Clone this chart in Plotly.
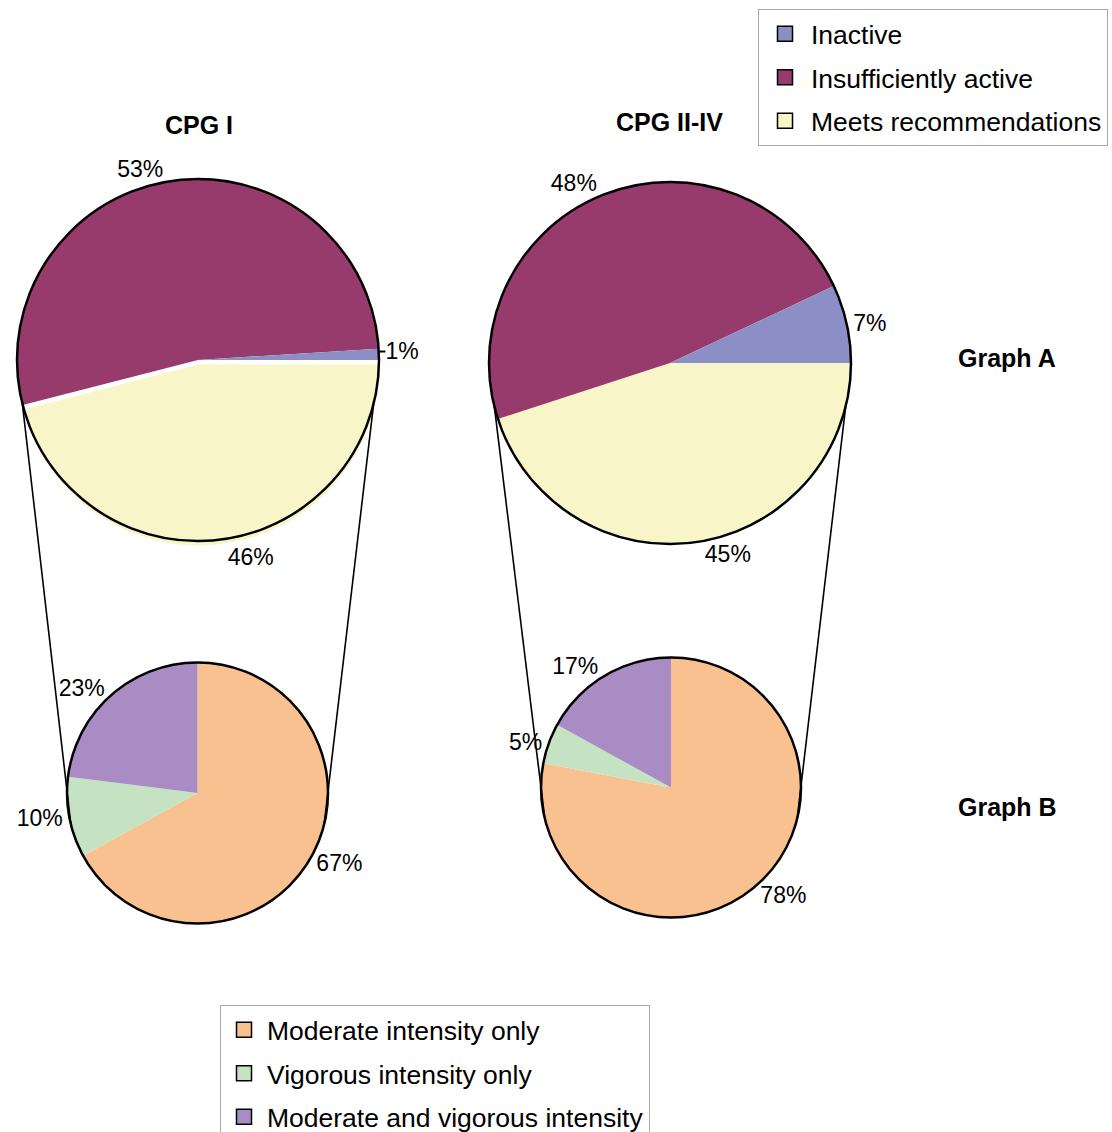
import math
import plotly.graph_objects as go

# ---------------- data ----------------
activity_labels = ["Inactive", "Insufficiently active", "Meets recommendations"]
activity_colors = ["#8b8fc6", "#973a6c", "#f8f6c8"]
cpg1_activity = [1, 53, 46]
cpg2_activity = [7, 48, 45]

intensity_labels = ["Moderate intensity only", "Vigorous intensity only",
                    "Moderate and vigorous intensity"]
intensity_colors = ["#f9c18f", "#c5e3c3", "#a98cc3"]
cpg1_intensity = [67, 10, 23]
cpg2_intensity = [78, 5, 17]

group_titles = ["CPG I", "CPG II-IV"]
row_titles = ["Graph A", "Graph B"]

# ---------------- layout geometry (pixels) ----------------
W, H = 1112, 1132
FONT = "Liberation Sans, Arial, Helvetica, sans-serif"

pies = {
    "tl": (198, 360, 181),
    "tr": (670, 363, 181),
    "bl": (197.5, 793, 130.5),
    "br": (671, 787.5, 130),
}
TL_PULL = 0.025   # the "meets" wedge of CPG I is slightly exploded


def dom(cx, cy, r, pull=0.0):
    h = r * (1 + pull)
    return dict(x=[(cx - h) / W, (cx + h) / W], y=[1 - (cy + h) / H, 1 - (cy - h) / H])


def px(x):
    return x / W


def py(y):
    return 1 - y / H


def rev(seq):
    return list(seq)[::-1]


fig = go.Figure()

common = dict(sort=False, textposition="outside", texttemplate="%{value}%",
              textfont=dict(size=23, color="black", family=FONT),
              showlegend=False, hoverinfo="label+value")

# top pies: counter-clockwise from 3 o'clock == clockwise from 3 o'clock in reverse order
tl_pull = [0, 0, TL_PULL]
fig.add_trace(go.Pie(labels=rev(activity_labels), values=rev(cpg1_activity),
                     domain=dom(*pies["tl"], pull=TL_PULL), direction="clockwise", rotation=90,
                     pull=rev(tl_pull),
                     marker=dict(colors=rev(activity_colors), line=dict(width=0)),
                     **common))
fig.add_trace(go.Pie(labels=rev(activity_labels), values=rev(cpg2_activity),
                     domain=dom(*pies["tr"]), direction="clockwise", rotation=90,
                     marker=dict(colors=rev(activity_colors), line=dict(width=0)),
                     **common))
# bottom pies (clockwise from 12 o'clock)
fig.add_trace(go.Pie(labels=intensity_labels, values=cpg1_intensity, domain=dom(*pies["bl"]),
                     direction="clockwise", rotation=0,
                     marker=dict(colors=intensity_colors, line=dict(width=0)),
                     **common))
fig.add_trace(go.Pie(labels=intensity_labels, values=cpg2_intensity, domain=dom(*pies["br"]),
                     direction="clockwise", rotation=0,
                     marker=dict(colors=intensity_colors, line=dict(width=0)),
                     **common))

# outer outlines of the pies
for key in pies:
    fig.add_trace(go.Pie(labels=["outline"], values=[1], domain=dom(*pies[key]),
                         marker=dict(colors=["rgba(0,0,0,0)"], line=dict(color="black", width=2.5)),
                         textinfo="none", hoverinfo="skip", showlegend=False, sort=False))

# legend entries
for lab, col in zip(activity_labels, activity_colors):
    fig.add_trace(go.Scatter(x=[None], y=[None], mode="markers", name=lab,
                             legend="legend", legendgroup=lab,
                             marker=dict(symbol="square", size=15, color=col,
                                         line=dict(color="black", width=1.5))))
for lab, col in zip(intensity_labels, intensity_colors):
    fig.add_trace(go.Scatter(x=[None], y=[None], mode="markers", name=lab,
                             legend="legend2", legendgroup=lab,
                             marker=dict(symbol="square", size=15, color=col,
                                         line=dict(color="black", width=1.5))))

# connector lines between top and bottom pies
shapes = []
ang = math.radians(14)
for top, bot in (("tl", "bl"), ("tr", "br")):
    tcx, tcy, tr_ = pies[top]
    bcx, bcy, br_ = pies[bot]
    for side in (-1, 1):
        x0 = tcx + side * tr_ * math.cos(ang)
        y0 = tcy + tr_ * math.sin(ang)
        x1 = bcx + side * br_ * math.cos(ang)
        y1 = bcy + br_ * math.sin(ang)
        shapes.append(dict(type="line", xref="paper", yref="paper",
                           x0=px(x0), y0=py(y0), x1=px(x1), y1=py(y1),
                           line=dict(color="black", width=1.6)))

annotations = [
    dict(text="<b>%s</b>" % group_titles[0], x=px(199), y=py(125)),
    dict(text="<b>%s</b>" % group_titles[1], x=px(669), y=py(122)),
    dict(text="<b>%s</b>" % row_titles[0], x=px(1007), y=py(358)),
    dict(text="<b>%s</b>" % row_titles[1], x=px(1007), y=py(807)),
]
for a in annotations:
    a.update(xref="paper", yref="paper", showarrow=False, xanchor="center", yanchor="middle",
             font=dict(size=25, color="black", family=FONT))

legend_common = dict(xanchor="left", yanchor="top",
                     bordercolor="#a8a8a8", borderwidth=1,
                     bgcolor="white", font=dict(size=26.5, color="black", family=FONT),
                     tracegroupgap=6, itemclick=False, itemdoubleclick=False)

fig.update_layout(
    width=W, height=H,
    margin=dict(l=0, r=0, t=0, b=0, autoexpand=False),
    paper_bgcolor="white", plot_bgcolor="white",
    font=dict(family=FONT, color="black"),
    showlegend=True,
    xaxis=dict(visible=False), yaxis=dict(visible=False),
    legend=dict(x=px(758), y=py(9), itemwidth=42, **legend_common),
    legend2=dict(x=px(220), y=py(1005), itemwidth=36, **legend_common),
    shapes=shapes,
    annotations=annotations,
)

fig.write_html("out.html")
